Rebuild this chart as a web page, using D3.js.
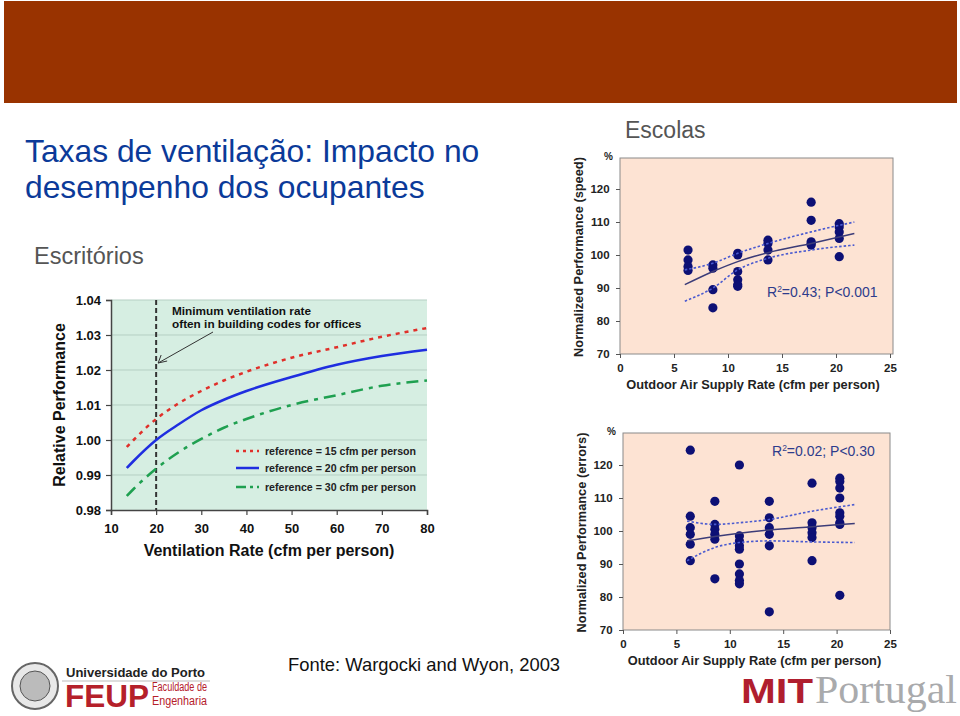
<!DOCTYPE html>
<html>
<head>
<meta charset="utf-8">
<script src="https://cdn.jsdelivr.net/npm/d3@7"></script>
<style>
  body { margin: 0; background: #fff; }
  svg { display: block; font-family: Arial, "Liberation Sans", Helvetica, sans-serif; }
</style>
</head>
<body>
<svg id="slide" width="960" height="716"></svg>
<script>
// office chart: relative performance vs ventilation rate
var ventX = [13.5, 15, 20, 25, 30, 35, 40, 50, 60, 70, 80];
var ref15 = [0.998, 1.000, 1.006, 1.0105, 1.014, 1.017, 1.0195, 1.0235, 1.0265, 1.0295, 1.032];
var ref20 = [0.992, 0.994, 1.000, 1.0045, 1.0085, 1.0115, 1.014, 1.018, 1.0215, 1.024, 1.0258];
var ref30 = [0.984, 0.986, 0.9918, 0.9965, 1.0003, 1.0035, 1.006, 1.010, 1.0128, 1.0155, 1.017];
var officeXTicks = [10, 20, 30, 40, 50, 60, 70, 80];
var officeYTicks = [0.98, 0.99, 1.00, 1.01, 1.02, 1.03, 1.04];
var legendLabels = ['reference = 15 cfm per person', 'reference = 20 cfm per person', 'reference = 30 cfm per person'];

// schools: speed
var speedX = [6.3, 6.3, 6.3, 6.3, 8.6, 8.6, 8.6, 8.6, 10.9, 10.9, 10.9, 10.9, 10.9, 10.9,
  13.7, 13.7, 13.7, 13.7, 17.7, 17.7, 17.7, 17.7, 17.7, 20.3, 20.3, 20.3, 20.3, 20.3];
var speedY = [101.5, 98.5, 96.5, 95.3, 97, 96, 89.5, 84, 100.5, 100, 95, 92.5, 91, 90.5,
  104.5, 103.5, 101.5, 98.5, 116, 110.5, 104, 103.5, 103, 109.5, 108.5, 107, 105, 99.5];
var fitX = [6, 8.6, 10.9, 13.7, 17.7, 21.7];
var speedFit = [91, 95, 98, 100.7, 103.5, 106.5];
var speedUpper = [95.5, 97.5, 100.5, 103.5, 107, 110];
var speedLower = [86, 90, 95.5, 99, 101.5, 103];

// schools: errors
var errX = [6.3, 6.3, 6.3, 6.3, 6.3, 6.3, 8.6, 8.6, 8.6, 8.6, 8.6, 8.6,
  10.9, 10.9, 10.9, 10.9, 10.9, 10.9, 10.9, 10.9, 10.9,
  13.7, 13.7, 13.7, 13.7, 13.7, 13.7, 17.7, 17.7, 17.7, 17.7, 17.7, 17.7,
  20.3, 20.3, 20.3, 20.3, 20.3, 20.3, 20.3, 20.3, 20.3];
var errY = [124.5, 104.5, 101, 99, 96, 91, 109, 102, 100.5, 99, 97.5, 85.5,
  120, 98.5, 97, 95.5, 94.5, 90, 87, 85, 84,
  109, 104, 101, 99, 95.5, 75.5, 114.5, 102.5, 101, 99.5, 98, 91,
  116, 115, 113, 110, 105.5, 104.5, 102.5, 102, 80.5];
var errFit = [97, 98.3, 99.3, 100.3, 101.3, 102.3];
var errUpper = [103, 102, 102.5, 103.5, 106, 108];
var errLower = [91, 95, 96.5, 97, 96.7, 96.5];

var schoolXTicks = [0, 5, 10, 15, 20, 25];
var schoolYTicks = [70, 80, 90, 100, 110, 120];

var svg = d3.select('#slide');

// top banner
svg.append('rect').attr('x', 4).attr('y', 1).attr('width', 953).attr('height', 102).attr('fill', '#993300');

// titles
var title = svg.append('text').attr('x', 25).attr('font-size', 31.8).attr('fill', '#0b3a99');
title.append('tspan').attr('x', 25).attr('y', 162).text('Taxas de ventilação: Impacto no');
title.append('tspan').attr('x', 25).attr('y', 198).text('desempenho dos ocupantes');

svg.append('text').attr('x', 34).attr('y', 264).attr('font-size', 23.5).attr('fill', '#555')
  .text('Escritórios');
svg.append('text').attr('x', 625).attr('y', 138).attr('font-size', 23).attr('fill', '#555')
  .text('Escolas');

// ---------- office chart ----------
var ox = d3.scaleLinear().domain([10, 80]).range([111, 427]);
var oy = d3.scaleLinear().domain([0.98, 1.04]).range([510, 300]);

var office = svg.append('g');
office.append('rect')
  .attr('x', ox(10)).attr('y', oy(1.04))
  .attr('width', ox(80) - ox(10)).attr('height', oy(0.98) - oy(1.04))
  .attr('fill', '#d6eee2');

office.selectAll('line.grid').data(officeYTicks.slice(1)).enter().append('line')
  .attr('class', 'grid')
  .attr('x1', ox(10)).attr('x2', ox(80))
  .attr('y1', function(d) { return oy(d); }).attr('y2', function(d) { return oy(d); })
  .attr('stroke', '#b5cfc3').attr('stroke-width', 1);

var oxAxis = office.append('g').attr('transform', 'translate(0,' + oy(0.98) + ')')
  .call(d3.axisBottom(ox).tickValues(officeXTicks).tickSize(5).tickFormat(d3.format('d')));
var oyAxis = office.append('g').attr('transform', 'translate(' + ox(10) + ',0)')
  .call(d3.axisLeft(oy).tickValues(officeYTicks).tickSize(5).tickFormat(d3.format('.2f')));
[oxAxis, oyAxis].forEach(function(a) {
  a.select('.domain').attr('stroke', '#444').attr('stroke-width', 1.5);
  a.selectAll('.tick line').attr('stroke', '#444').attr('stroke-width', 1.2);
  a.selectAll('text').attr('font-size', 13).attr('font-weight', 'bold').attr('fill', '#111')
    .attr('font-family', 'Arial, "Liberation Sans", sans-serif');
});
oxAxis.selectAll('text').attr('dy', '1.15em');
oyAxis.selectAll('text').attr('dx', '-0.15em');

office.append('text').attr('x', 269).attr('y', 556).attr('text-anchor', 'middle')
  .attr('font-size', 16).attr('font-weight', 'bold').attr('fill', '#111')
  .text('Ventilation Rate (cfm per person)');
office.append('text')
  .attr('transform', 'translate(65,405) rotate(-90)')
  .attr('text-anchor', 'middle').attr('font-size', 16).attr('font-weight', 'bold').attr('fill', '#111')
  .text('Relative Performance');

// minimum ventilation line
office.append('line')
  .attr('x1', ox(20)).attr('x2', ox(20)).attr('y1', oy(1.04)).attr('y2', oy(0.98))
  .attr('stroke', '#333').attr('stroke-width', 2).attr('stroke-dasharray', '5,3');

var note = office.append('text').attr('font-size', 11.8).attr('font-weight', 'bold').attr('fill', '#111');
note.append('tspan').attr('x', 172).attr('y', 315).text('Minimum ventilation rate');
note.append('tspan').attr('x', 172).attr('y', 328).text('often in building codes for offices');

office.append('line')
  .attr('x1', 213).attr('y1', 332).attr('x2', ox(20) + 2).attr('y2', oy(1.022))
  .attr('stroke', '#333').attr('stroke-width', 1);
office.append('path')
  .attr('d', 'M' + (ox(20) + 2) + ',' + oy(1.022) + ' l9,-2 M' + (ox(20) + 2) + ',' + oy(1.022) + ' l3,-8')
  .attr('stroke', '#333').attr('stroke-width', 1).attr('fill', 'none');

var officeSeries = [
  { vals: ref15, color: '#e0302a', dash: '4,5' },
  { vals: ref20, color: '#1f2ee0', dash: null },
  { vals: ref30, color: '#1fa050', dash: '12,6,4,6' }
];
var oline = d3.line().curve(d3.curveMonotoneX)
  .x(function(d, i) { return ox(ventX[i]); })
  .y(function(d) { return oy(d); });

officeSeries.forEach(function(s, k) {
  office.append('path').attr('d', oline(s.vals))
    .attr('fill', 'none').attr('stroke', s.color).attr('stroke-width', 2.5)
    .attr('stroke-dasharray', s.dash);
  var ly = [451, 468, 487][k];
  office.append('line').attr('x1', 236).attr('x2', 259).attr('y1', ly).attr('y2', ly)
    .attr('stroke', s.color).attr('stroke-width', 2.5)
    .attr('stroke-dasharray', k === 0 ? '3,4' : (k === 2 ? '10,4,3,4' : null));
  office.append('text').attr('x', 265).attr('y', ly + 3.5)
    .attr('font-size', 10.6).attr('font-weight', 'bold').attr('fill', '#222')
    .text(legendLabels[k]);
});

// ---------- school charts ----------
function schoolChart(cfg) {
  var x = d3.scaleLinear().domain([0, 25]).range([cfg.left, cfg.right]);
  var y = d3.scaleLinear().domain([70, 120]).range([cfg.bottom, cfg.bottom - 165]);
  var g = svg.append('g');

  g.append('rect')
    .attr('x', cfg.left).attr('y', cfg.top)
    .attr('width', cfg.frameRight - cfg.left).attr('height', cfg.bottom - cfg.top)
    .attr('fill', '#fde3d3').attr('stroke', '#8a8a8a').attr('stroke-width', 1);

  var xa = g.append('g').attr('transform', 'translate(0,' + cfg.bottom + ')')
    .call(d3.axisBottom(x).tickValues(schoolXTicks).tickSize(4).tickFormat(d3.format('d')));
  var ya = g.append('g').attr('transform', 'translate(' + cfg.left + ',0)')
    .call(d3.axisLeft(y).tickValues(schoolYTicks).tickSize(4).tickFormat(d3.format('d')));
  [xa, ya].forEach(function(a) {
    a.select('.domain').remove();
    a.selectAll('.tick line').attr('stroke', '#555');
    a.selectAll('text').attr('font-size', 11.5).attr('font-weight', 'bold').attr('fill', '#222')
      .attr('font-family', 'Arial, "Liberation Sans", sans-serif');
  });
  xa.selectAll('text').attr('dy', '0.95em');
  ya.selectAll('text').attr('dx', '-0.3em');

  g.append('text').attr('x', cfg.left - 16).attr('y', cfg.top + 2)
    .attr('font-size', 10).attr('font-weight', 'bold').attr('fill', '#222').text('%');
  g.append('text').attr('x', (cfg.left + cfg.right) / 2 - 2).attr('y', cfg.bottom + 35)
    .attr('text-anchor', 'middle').attr('font-size', 12.8).attr('font-weight', 'bold').attr('fill', '#222')
    .text('Outdoor Air Supply Rate (cfm per person)');
  g.append('text')
    .attr('transform', 'translate(' + (cfg.left - 37) + ',' + ((cfg.top + cfg.bottom) / 2 + 1) + ') rotate(-90)')
    .attr('text-anchor', 'middle').attr('font-size', 12.8).attr('font-weight', 'bold').attr('fill', '#222')
    .text(cfg.yTitle);

  var line = d3.line().curve(d3.curveMonotoneX)
    .x(function(d, i) { return x(fitX[i]); })
    .y(function(d) { return y(d); });

  g.selectAll('circle').data(cfg.ys).enter().append('circle')
    .attr('cx', function(d, i) { return x(cfg.xs[i]); })
    .attr('cy', function(d) { return y(d); })
    .attr('r', 4.6).attr('fill', '#0d1075');

  [cfg.upper, cfg.lower].forEach(function(band) {
    g.append('path').attr('d', line(band)).attr('fill', 'none')
      .attr('stroke', '#4a5ad0').attr('stroke-width', 1.6).attr('stroke-dasharray', '2.5,2');
  });
  g.append('path').attr('d', line(cfg.fit)).attr('fill', 'none')
    .attr('stroke', '#3c3c78').attr('stroke-width', 1.5);

  var t = g.append('text').attr('x', cfg.statX).attr('y', cfg.statY)
    .attr('font-size', 14).attr('fill', '#2e3c8c');
  t.append('tspan').text('R');
  t.append('tspan').attr('dy', -5).attr('font-size', 8.5).text('2');
  t.append('tspan').attr('dy', 5).text(cfg.stat);
}

schoolChart({
  left: 620, right: 890, frameRight: 893, top: 158, bottom: 354,
  xs: speedX, ys: speedY, fit: speedFit, upper: speedUpper, lower: speedLower,
  yTitle: 'Normalized Performance (speed)', statX: 767, statY: 297, stat: '=0.43; P<0.001'
});
schoolChart({
  left: 623, right: 890, frameRight: 890, top: 433, bottom: 630,
  xs: errX, ys: errY, fit: errFit, upper: errUpper, lower: errLower,
  yTitle: 'Normalized Performance (errors)', statX: 772, statY: 456, stat: '=0.02; P<0.30'
});

// source
svg.append('text').attr('x', 288).attr('y', 671).attr('font-size', 18.4).attr('fill', '#111')
  .text('Fonte: Wargocki and Wyon, 2003');

// logos (approximated with text)
var up = svg.append('g');
up.append('circle').attr('cx', 35).attr('cy', 686).attr('r', 23)
  .attr('fill', '#e8e8e8').attr('stroke', '#666').attr('stroke-width', 2);
up.append('circle').attr('cx', 35).attr('cy', 686).attr('r', 15)
  .attr('fill', '#bbb').attr('stroke', '#555').attr('stroke-width', 1);
up.append('text').attr('x', 66).attr('y', 677).attr('font-size', 13.5).attr('font-weight', 'bold')
  .attr('fill', '#222').attr('textLength', 139).attr('lengthAdjust', 'spacingAndGlyphs')
  .text('Universidade do Porto');
up.append('line').attr('x1', 62).attr('x2', 210).attr('y1', 681).attr('y2', 681)
  .attr('stroke', '#bbb').attr('stroke-width', 1);
up.append('text').attr('x', 65).attr('y', 707).attr('font-size', 31).attr('font-weight', 'bold')
  .attr('fill', '#b5202a').attr('textLength', 84).attr('lengthAdjust', 'spacingAndGlyphs').text('FEUP');
up.append('text').attr('x', 152).attr('y', 691).attr('font-size', 12).attr('fill', '#b5202a')
  .attr('textLength', 55).attr('lengthAdjust', 'spacingAndGlyphs').text('Faculdade de');
up.append('text').attr('x', 152).attr('y', 705).attr('font-size', 12).attr('fill', '#b5202a')
  .attr('textLength', 55).attr('lengthAdjust', 'spacingAndGlyphs').text('Engenharia');

svg.append('text').attr('x', 741).attr('y', 703).attr('font-size', 35).attr('font-weight', 'bold')
  .attr('fill', '#b01e2e').attr('textLength', 72).attr('lengthAdjust', 'spacingAndGlyphs').text('MIT');
svg.append('text').attr('x', 815).attr('y', 703).attr('font-size', 41)
  .attr('font-family', '"Liberation Serif", "DejaVu Serif", serif')
  .attr('fill', '#a9aaac').attr('textLength', 142).attr('lengthAdjust', 'spacingAndGlyphs').text('Portugal');
</script>
</body>
</html>
